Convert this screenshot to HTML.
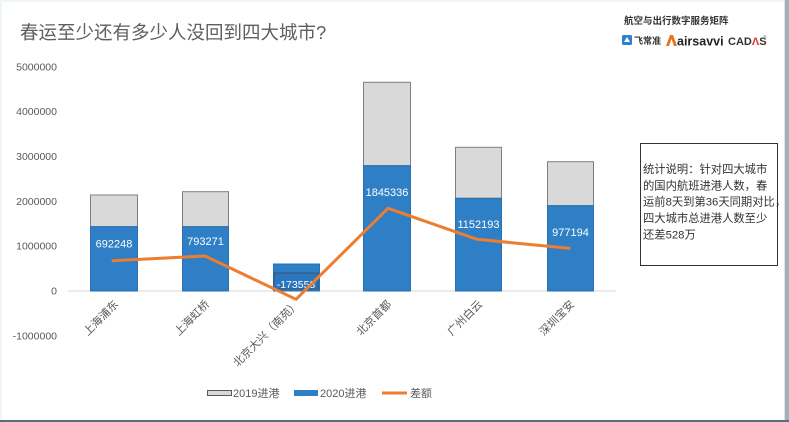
<!DOCTYPE html>
<html>
<head>
<meta charset="utf-8">
<style>
  html,body{margin:0;padding:0;background:#fff;}
  svg{display:block;}
  text{font-family:"Liberation Sans","Noto Sans CJK SC",sans-serif;}
</style>
</head>
<body>
<svg width="789" height="422" viewBox="0 0 789 422" xmlns="http://www.w3.org/2000/svg">
  <rect x="0" y="0" width="789" height="422" fill="#ffffff"/>
  <!-- frame edges -->
  <rect x="0" y="0" width="789" height="2" fill="#eef6fa"/>
  <rect x="0" y="0" width="2" height="422" fill="#eef6fa"/>
  <rect x="784" y="0" width="1" height="422" fill="#dde2e8"/>
  <rect x="785" y="0" width="4" height="422" fill="#a7afb9"/>
  <rect x="0" y="420" width="789" height="2" fill="#5b6b7b"/>

  <!-- title -->
  <text x="20" y="39" font-size="18.5" fill="#5f5f5f">春运至少还有多少人没回到四大城市?</text>

  <!-- logo block -->
  <text x="624" y="24" font-size="9.5" font-weight="bold" fill="#333">航空与出行数字服务矩阵</text>
  <rect x="622" y="35" width="10" height="10" rx="1.5" fill="#2d7fd0"/>
  <path d="M624 42 L627 37 L630 42 Z" fill="#fff"/>
  <text x="634" y="44" font-size="9" font-weight="bold" fill="#333">飞常准</text>
  <path d="M666 46 L670 35 L673 35 L677 46 L674 46 L671.5 39 L669 46 Z" fill="#e8731f"/>
  <text x="677" y="45.5" font-size="12.5" font-weight="bold" fill="#222">airsavvi</text>
  <text x="728" y="45" font-size="11" font-weight="bold" fill="#333">CAD<tspan fill="#e03030">Λ</tspan>S</text>
  <text x="763" y="39" font-size="5" fill="#888">®</text>

  <!-- y axis labels -->
  <g font-size="10.5" fill="#595959" text-anchor="end">
    <text x="57" y="70.5">5000000</text>
    <text x="57" y="115">4000000</text>
    <text x="57" y="160">3000000</text>
    <text x="57" y="205">2000000</text>
    <text x="57" y="249.5">1000000</text>
    <text x="57" y="294.5">0</text>
    <text x="57" y="339.5">-1000000</text>
  </g>

  <!-- zero line -->
  <line x1="68" y1="291" x2="616" y2="291" stroke="#d9d9d9" stroke-width="1"/>

  <!-- bars -->
  <g stroke-width="1">
    <rect x="90.5" y="195" width="47" height="31.7" fill="#d9d9d9" stroke="#7f7f7f"/>
    <rect x="90.5" y="226.7" width="47" height="64.3" fill="#2e7fc6" stroke="#2a6fb0"/>
    <rect x="182.5" y="191.7" width="46" height="35" fill="#d9d9d9" stroke="#7f7f7f"/>
    <rect x="182.5" y="226.7" width="46" height="64.3" fill="#2e7fc6" stroke="#2a6fb0"/>
    <rect x="273.5" y="264" width="46" height="27" fill="#2e7fc6" stroke="#2a6fb0"/>
    <rect x="363.5" y="82.3" width="47" height="83.4" fill="#d9d9d9" stroke="#7f7f7f"/>
    <rect x="363.5" y="165.7" width="47" height="125.3" fill="#2e7fc6" stroke="#2a6fb0"/>
    <rect x="455.5" y="147.3" width="46" height="51" fill="#d9d9d9" stroke="#7f7f7f"/>
    <rect x="455.5" y="198.3" width="46" height="92.7" fill="#2e7fc6" stroke="#2a6fb0"/>
    <rect x="547.5" y="161.7" width="46" height="44" fill="#d9d9d9" stroke="#7f7f7f"/>
    <rect x="547.5" y="205.7" width="46" height="85.3" fill="#2e7fc6" stroke="#2a6fb0"/>
  </g>

  <!-- label box for bar 3 -->
  <rect x="274" y="273" width="44" height="16" fill="#2b77bf" stroke="#3b4b5b" stroke-width="0.8"/>

  <!-- data labels -->
  <g font-size="11" fill="#ffffff" text-anchor="middle">
    <text x="114" y="247.5">692248</text>
    <text x="205.5" y="245">793271</text>
    <text x="387" y="196">1845336</text>
    <text x="478.5" y="228">1152193</text>
    <text x="570.5" y="236">977194</text>
  </g>
  <text x="296" y="288" font-size="10.5" fill="#ffffff" text-anchor="middle">-173558</text>

  <!-- line series -->
  <polyline points="113,260.7 205,256 296,299.3 388,208.3 477,239.3 569,248.3" fill="none" stroke="#ed7d31" stroke-width="3" stroke-linejoin="round" stroke-linecap="round"/>

  <!-- x labels -->
  <g font-size="11" fill="#595959" text-anchor="end">
    <text transform="translate(119,305) rotate(-45)">上海浦东</text>
    <text transform="translate(210,305) rotate(-45)">上海虹桥</text>
    <text transform="translate(300,305) rotate(-45)">北京大兴（南苑）</text>
    <text transform="translate(392,305) rotate(-45)">北京首都</text>
    <text transform="translate(483,305) rotate(-45)">广州白云</text>
    <text transform="translate(575,305) rotate(-45)">深圳宝安</text>
  </g>

  <!-- legend -->
  <rect x="207.5" y="390.5" width="24" height="5" fill="#d9d9d9" stroke="#595959" stroke-width="1"/>
  <text x="233" y="397" font-size="11" fill="#595959">2019进港</text>
  <rect x="294" y="390" width="24" height="6" fill="#2e7fc6"/>
  <text x="320" y="397" font-size="11" fill="#595959">2020进港</text>
  <line x1="382" y1="393" x2="407" y2="393" stroke="#ed7d31" stroke-width="3"/>
  <text x="410" y="397" font-size="11" fill="#595959">差额</text>

  <!-- note box -->
  <rect x="640.5" y="143.5" width="137" height="122" fill="#ffffff" stroke="#333" stroke-width="1"/>
  <g font-size="11.3" fill="#333">
    <text x="643" y="173">统计说明：针对四大城市</text>
    <text x="643" y="189.3">的国内航班进港人数，春</text>
    <text x="643" y="205.6">运前8天到第36天同期对比，</text>
    <text x="643" y="222">四大城市总进港人数至少</text>
    <text x="643" y="238.3">还差528万</text>
  </g>
</svg>
</body>
</html>
